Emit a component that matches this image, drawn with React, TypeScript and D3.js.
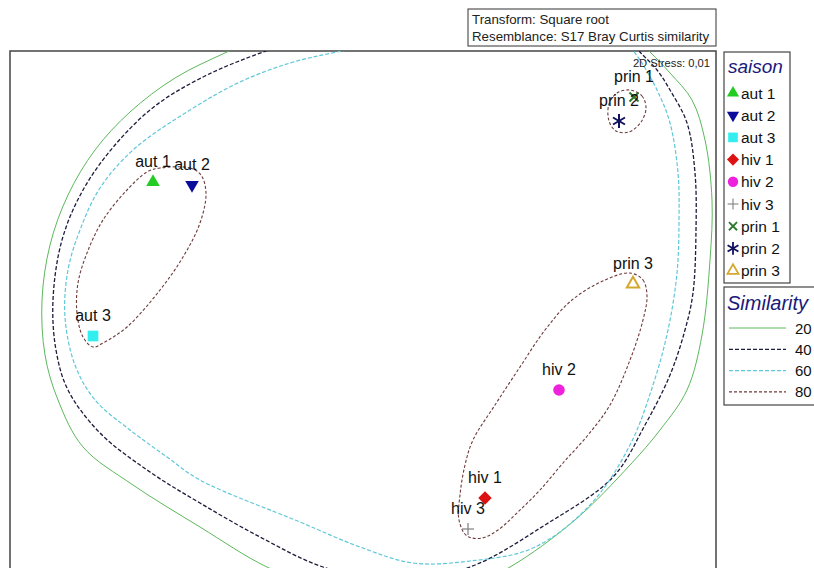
import React from 'react';
import * as d3 from 'd3';

// ---------- data ----------
const sampleNames = ['aut 1', 'aut 2', 'aut 3', 'hiv 1', 'hiv 2', 'hiv 3', 'prin 1', 'prin 2', 'prin 3'];
const sampleX = [-0.84, -0.684, -1.08, 0.488, 0.784, 0.42, 1.084, 1.024, 1.08];
const sampleY = [0.512, 0.5, -0.104, -0.752, -0.32, -0.876, 0.852, 0.756, 0.104];
const similarityLevels = [20, 40, 60, 80];
const headerLines = ['Transform: Square root', 'Resemblance: S17 Bray Curtis similarity'];
const stressLabel = '2D Stress: 0,01';
const legendTitle = 'saison';
const similarityTitle = 'Similarity';

// similarity contours (MDS coordinates)
const contour80Aut: [number, number][] = [
  [-0.812, 0.568], [-0.692, 0.568], [-0.648, 0.54], [-0.628, 0.468], [-0.652, 0.348], [-0.72, 0.212],
  [-0.812, 0.08], [-0.944, -0.068], [-1.04, -0.132], [-1.08, -0.148], [-1.12, -0.108], [-1.144, -0.012],
  [-1.14, 0.108], [-1.104, 0.228], [-1.04, 0.36], [-0.944, 0.48], [-0.864, 0.552],
];
const contour80Prin: [number, number][] = [
  [1.068, 0.88], [1.116, 0.856], [1.132, 0.808], [1.112, 0.752], [1.064, 0.712], [1.012, 0.716],
  [0.984, 0.756], [0.984, 0.824], [1.016, 0.868],
];
const contour80Hiv: [number, number][] = [
  [1.068, 0.148], [1.12, 0.12], [1.136, 0.056], [1.12, -0.04], [1.068, -0.2], [0.988, -0.38],
  [0.9, -0.5], [0.8, -0.612], [0.708, -0.72], [0.62, -0.808], [0.54, -0.88], [0.476, -0.912],
  [0.416, -0.904], [0.384, -0.84], [0.388, -0.74], [0.408, -0.62], [0.44, -0.52], [0.528, -0.38],
  [0.628, -0.228], [0.728, -0.08], [0.836, 0.04], [0.968, 0.12],
];
const contour60: [number, number][] = [
  [0.148, 1.08], [-0.104, 1.032], [-0.292, 0.988], [-0.492, 0.912], [-0.692, 0.8], [-0.92, 0.64],
  [-1.052, 0.488], [-1.132, 0.32], [-1.18, 0.16], [-1.192, -0.028], [-1.152, -0.22], [-1.072, -0.36],
  [-0.932, -0.48], [-0.784, -0.588], [-0.652, -0.68], [-0.252, -0.848], [-0.012, -0.948], [0.2, -1.012],
  [0.428, -1.004], [0.68, -0.952], [0.908, -0.78], [1.068, -0.54], [1.16, -0.3], [1.22, -0.08],
  [1.256, 0.148], [1.264, 0.36], [1.26, 0.548], [1.228, 0.748], [1.176, 0.88], [1.108, 1.0], [1.048, 1.08],
];
const contour40: [number, number][] = [
  [-0.132, 1.12], [-0.4, 1.032], [-0.632, 0.936], [-0.832, 0.816], [-0.992, 0.66], [-1.12, 0.48],
  [-1.204, 0.28], [-1.24, 0.04], [-1.228, -0.16], [-1.18, -0.32], [-1.052, -0.492], [-0.852, -0.648],
  [-0.652, -0.772], [-0.412, -0.908], [-0.16, -1.028], [0.128, -1.088], [0.428, -1.028], [0.728, -0.86],
  [1.0, -0.668], [1.128, -0.46], [1.228, -0.26], [1.288, -0.08], [1.32, 0.068], [1.332, 0.32],
  [1.328, 0.548], [1.296, 0.748], [1.228, 0.88], [1.176, 0.96], [1.108, 1.032], [1.048, 1.1],
];
const contour20: [number, number][] = [
  [-0.252, 1.16], [-0.544, 1.032], [-0.752, 0.928], [-0.932, 0.792], [-1.072, 0.64], [-1.18, 0.46],
  [-1.252, 0.26], [-1.284, 0.04], [-1.272, -0.18], [-1.22, -0.36], [-1.12, -0.548], [-0.92, -0.7],
  [-0.652, -0.868], [-0.384, -1.028], [-0.132, -1.12], [0.148, -1.152], [0.388, -1.12], [0.588, -1.028],
  [0.848, -0.84], [1.068, -0.62], [1.188, -0.48], [1.296, -0.32], [1.356, -0.1], [1.388, 0.2],
  [1.396, 0.44], [1.368, 0.68], [1.316, 0.84], [1.228, 0.948], [1.148, 1.032], [1.028, 1.14],
];

// ---------- styles ----------
const W = 814;
const H = 568;
const FONT = "'Liberation Sans', Arial, Helvetica, sans-serif";

const markerKinds = ['triUp', 'triDown', 'square', 'diamond', 'circle', 'plus', 'cross', 'asterisk', 'triOpen'];
const markerColors = ['#22cc22', '#0c0c9a', '#33eeee', '#dd1111', '#ee22dd', '#888888', '#2a7a2a', '#10105e', '#d4a830'];

const levelStyles: Record<number, { stroke: string; dash: string; width: number }> = {
  20: { stroke: '#5cb85c', dash: '', width: 1 },
  40: { stroke: '#1c1c3c', dash: '4,2', width: 1.3 },
  60: { stroke: '#5ec8d8', dash: '4,2', width: 1.2 },
  80: { stroke: '#6e3b3b', dash: '3,2', width: 1.1 },
};

function Marker({ kind, color, cx, cy, s = 1 }: { kind: string; color: string; cx: number; cy: number; s?: number }) {
  const t = `translate(${cx},${cy}) scale(${s})`;
  switch (kind) {
    case 'triUp':
      return <path transform={t} d={d3.symbol(d3.symbolTriangle, 80)() || ''} fill={color} />;
    case 'triDown':
      return <path transform={`${t} rotate(180)`} d={d3.symbol(d3.symbolTriangle, 80)() || ''} fill={color} />;
    case 'square':
      return <path transform={t} d={d3.symbol(d3.symbolSquare, 115)() || ''} fill={color} />;
    case 'diamond':
      return <path transform={`${t} rotate(45)`} d={d3.symbol(d3.symbolSquare, 90)() || ''} fill={color} />;
    case 'circle':
      return <path transform={t} d={d3.symbol(d3.symbolCircle, 105)() || ''} fill={color} />;
    case 'plus':
      return (
        <g transform={t} stroke={color} strokeWidth={1.3}>
          <line x1={-6} y1={0} x2={6} y2={0} />
          <line x1={0} y1={-6} x2={0} y2={6} />
        </g>
      );
    case 'cross':
      return (
        <g transform={t} stroke={color} strokeWidth={2}>
          <line x1={-4.5} y1={-4.5} x2={4.5} y2={4.5} />
          <line x1={-4.5} y1={4.5} x2={4.5} y2={-4.5} />
        </g>
      );
    case 'asterisk':
      return (
        <g transform={t} stroke={color} strokeWidth={2}>
          <line x1={0} y1={-7} x2={0} y2={7} />
          <line x1={-6} y1={-3.5} x2={6} y2={3.5} />
          <line x1={-6} y1={3.5} x2={6} y2={-3.5} />
        </g>
      );
    case 'triOpen':
      return <path transform={t} d={d3.symbol(d3.symbolTriangle, 66)() || ''} fill="none" stroke={color} strokeWidth={2} />;
    default:
      return null;
  }
}

export default function App() {
  const xScale = d3.scaleLinear().domain([-1.412, 1.412]).range([10, 716]);
  const yScale = d3.scaleLinear().domain([-1.032, 1.032]).range([568, 52]);

  const closed = d3
    .line<[number, number]>()
    .x((d) => xScale(d[0]))
    .y((d) => yScale(d[1]))
    .curve(d3.curveCatmullRomClosed.alpha(0.5));
  const open = d3
    .line<[number, number]>()
    .x((d) => xScale(d[0]))
    .y((d) => yScale(d[1]))
    .curve(d3.curveCatmullRom.alpha(0.5));

  const frameX = xScale(-1.412);
  const frameY = 51;
  const frameW = xScale(1.412) - frameX;

  const contours = [
    { level: 20, d: open(contour20) },
    { level: 40, d: open(contour40) },
    { level: 60, d: open(contour60) },
    { level: 80, d: closed(contour80Aut) },
    { level: 80, d: closed(contour80Prin) },
    { level: 80, d: closed(contour80Hiv) },
  ];

  const legendTop = 52;
  const simTop = 287;

  return (
    <svg width={W} height={H} style={{ position: 'absolute', left: 0, top: 0, background: '#fff' }} fontFamily={FONT}>
      <defs>
        <clipPath id="plotClip">
          <rect x={frameX} y={frameY} width={frameW} height={H} />
        </clipPath>
      </defs>
      <rect x={0} y={0} width={W} height={H} fill="#fff" />

      {/* header box */}
      <rect x={468} y={9} width={248} height={37} fill="#fff" stroke="#333" strokeWidth={1} />
      {headerLines.map((t, i) => (
        <text key={t} x={472} y={24 + i * 17} fontSize={13.3} fill="#222">
          {t}
        </text>
      ))}

      {/* plot frame */}
      <rect x={frameX} y={frameY} width={frameW} height={H} fill="#fff" stroke="#444" strokeWidth={1.5} />

      <g clipPath="url(#plotClip)">
        {contours.map((c, i) => {
          const st = levelStyles[c.level];
          return (
            <path
              key={i}
              d={c.d || ''}
              fill="none"
              stroke={st.stroke}
              strokeWidth={st.width}
              strokeDasharray={st.dash || undefined}
            />
          );
        })}
      </g>

      <text x={710} y={67} textAnchor="end" fontSize={11.2} fill="#222">
        {stressLabel}
      </text>

      {/* samples */}
      {sampleNames.map((n, i) => {
        const cx = xScale(sampleX[i]);
        const cy = yScale(sampleY[i]);
        return (
          <g key={n}>
            <text x={cx} y={cy - 15} textAnchor="middle" fontSize={16} fill="#111">
              {n}
            </text>
            <Marker kind={markerKinds[i]} color={markerColors[i]} cx={cx} cy={cy} />
          </g>
        );
      })}

      {/* saison legend */}
      <rect x={724} y={legendTop} width={66} height={231} fill="#fff" stroke="#444" strokeWidth={1.2} />
      <text x={728} y={legendTop + 21} fontSize={19} fontStyle="italic" fill="#1a1a7a">
        {legendTitle}
      </text>
      {sampleNames.map((n, i) => {
        const cy = legendTop + 41 + i * 22.2;
        return (
          <g key={'lg' + n}>
            <Marker kind={markerKinds[i]} color={markerColors[i]} cx={733} cy={cy} s={0.9} />
            <text x={741} y={cy + 5.5} fontSize={15.5} fill="#111">
              {n}
            </text>
          </g>
        );
      })}

      {/* similarity legend */}
      <rect x={724} y={simTop} width={100} height={118} fill="#fff" stroke="#444" strokeWidth={1.2} />
      <text x={727} y={simTop + 23} fontSize={20} fontStyle="italic" fill="#1a1a7a">
        {similarityTitle}
      </text>
      {similarityLevels.map((lv, i) => {
        const st = levelStyles[lv];
        const y = simTop + 41 + i * 21.3;
        return (
          <g key={'sim' + lv}>
            <line x1={729} x2={786} y1={y} y2={y} stroke={st.stroke} strokeWidth={st.width} strokeDasharray={st.dash || undefined} />
            <text x={795} y={y + 5.5} fontSize={15} fill="#111">
              {lv}
            </text>
          </g>
        );
      })}
    </svg>
  );
}
